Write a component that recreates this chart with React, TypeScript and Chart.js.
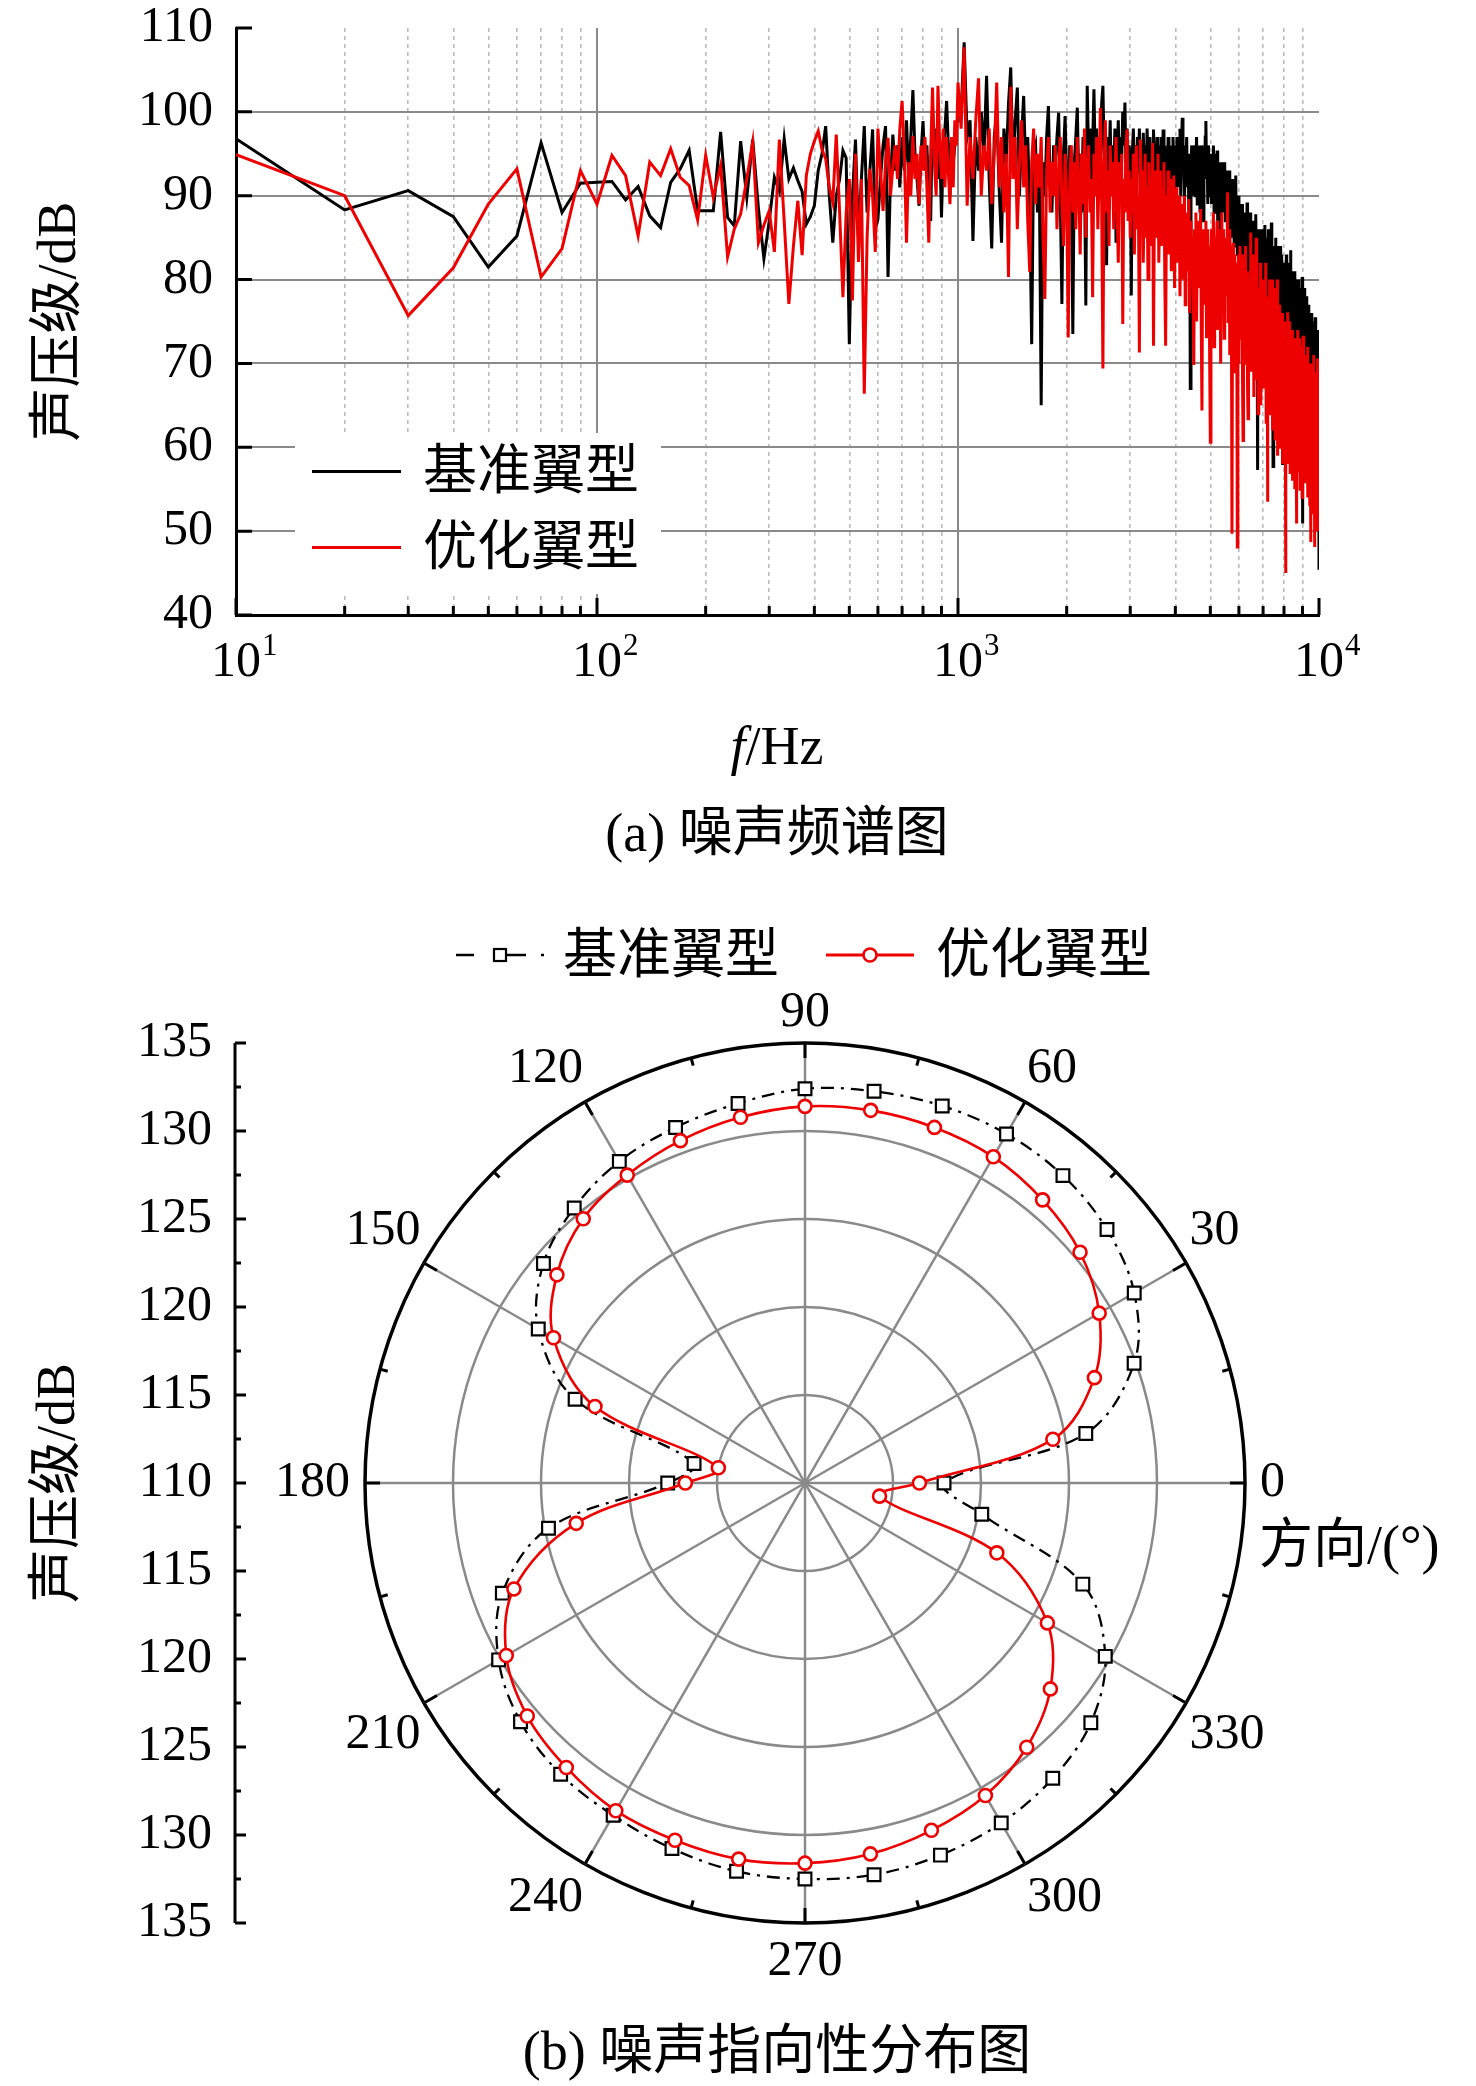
import React, { useEffect, useRef } from 'react';
import { Chart, registerables } from 'chart.js';

Chart.register(...registerables);

const SERIF = '"Liberation Serif", "Times New Roman", serif';
const MIXED = '"Liberation Serif", "Noto Sans CJK SC", serif';
const RED = '#ee0000';
const GRID_MAJOR = '#8a8a8a';
const GRID_MINOR = '#bcbcbc';

// ---------- (a) spectrum data ----------
const SERIES_NAMES = ['基准翼型', '优化翼型'];
const LOW_START = 10;
const LOW_STEP = 10;
const HIGH_START = 1020;
const HIGH_STEP = 20;

// 10 Hz .. 1000 Hz, 10 Hz step
const BASE_LOW = [
  96.8, 88.3, 90.6, 87.5, 81.5, 85.2, 96.3, 88.0, 91.5, 91.6,
  91.7, 89.5, 91.1, 87.6, 86.2, 91.6, 93.2, 95.4, 88.2, 88.2,
  88.2, 97.6, 87.4, 86.4, 96.5, 89.8, 96.7, 88.5, 82.5, 87.0,
  92.2, 90.5, 96.8, 92.0, 93.3, 91.8, 90.5, 86.6, 87.5, 88.8,
  93, 95, 98.3, 90, 84.4, 90, 92, 95.4, 94.5, 72.3,
  90, 96.7, 85, 92, 98.3, 88, 93, 97.9, 86, 87.2,
  92, 96, 98.3, 80.3, 92, 97.3, 93, 96, 91, 97,
  93, 99, 92, 97, 102.6, 95, 92, 88.8, 95, 98.9,
  93, 96, 90, 87, 100.5, 95, 98, 92, 96, 87.4,
  95, 98, 101.3, 96, 90, 97, 94, 96, 98.7, 99,
];
const OPT_LOW = [
  94.9, 90.0, 75.7, 81.4, 89.0, 93.2, 80.3, 83.7, 93.0, 89.0,
  94.8, 92.4, 85.2, 94.0, 92.4, 95.6, 92.2, 91.2, 87.1, 94.8,
  89.8, 93.6, 82.7, 86.0, 87.8, 92.0, 96.4, 84.4, 86.5, 88.2,
  83.3, 96.7, 87, 77.1, 84, 89.4, 82.9, 92.4, 95, 96.5,
  97.7, 95.5, 94.4, 91, 89.2, 97.3, 88, 77.9, 88, 92,
  77.5, 95.0, 82.1, 92.0, 66.4, 85, 93.2, 90, 83.3, 98.0,
  93, 88.2, 94, 96.9, 90, 93.4, 96, 92, 98, 101.3,
  95, 84.4, 94, 90, 97.1, 92, 95, 89, 96, 93,
  97, 91, 84.4, 95, 102.9, 94, 90, 103.1, 96, 92,
  98, 91, 97, 93, 89, 97, 91, 99, 96, 103.5,
];
// 1020 Hz .. 10000 Hz, 20 Hz step (25 values = 500 Hz per row)
const BASE_HIGH = [
  100, 108.3, 97, 99, 84.6, 97, 93, 100, 95, 104.3, 92, 83.7, 97, 100, 91, 84.4, 98, 94, 101, 105.3, 93, 99, 102.9, 90, 97,
  101.9, 93, 97, 89, 72.3, 95, 96, 88, 92, 65, 94, 90, 97, 100.7, 91, 88, 96, 93, 97, 99.9, 90, 77.1, 95, 99.5, 92,
  88, 96, 91, 73.5, 94, 97, 100.5, 92, 95, 88, 97, 93, 76.9, 103.1, 95, 98, 90, 96, 102.7, 94, 98, 89, 97, 93, 101,
  103.1, 95, 98, 81.7, 97, 93, 99, 90, 96, 92, 98, 84.4, 95, 99, 91, 97, 94, 100, 96, 101.1, 93, 98, 90, 96, 94,
  78.1, 95, 98, 92, 96, 89, 97, 93, 98, 91, 96, 88, 97.5, 93, 96, 90, 98, 94, 91, 97, 93, 96, 89, 97.9, 94,
  96, 91, 97, 93, 88, 96, 92, 97, 90, 97.9, 94, 96, 89, 95, 92, 97, 93, 95, 88, 96, 92, 97, 94, 90, 96,
  93, 97, 91, 96, 94, 98, 90, 96, 99.3, 93, 96, 89, 95, 92, 97, 91, 95, 88, 94, 67, 93, 96, 90, 95, 92,
  96, 90, 94, 97, 89, 95, 92, 96, 88, 94, 91, 96, 93, 87, 95, 92, 97, 98.9, 93, 95, 89, 96, 92, 94, 90,
  95, 89, 94, 91, 96, 88, 93, 90, 95, 92, 95.4, 87, 93, 90, 94, 86, 92, 89, 94, 91, 88, 93, 90, 94, 87,
  92, 88, 93, 86, 91, 89, 93, 84, 90, 87, 92, 85, 90, 88, 92, 84, 89, 87, 92.4, 85, 89, 83, 88, 86, 90,
  84, 89, 82, 87, 85, 89, 80, 86, 83, 88, 79, 85, 82, 87, 84, 89.2, 78, 85, 81, 86, 83, 88, 77, 84, 82,
  87, 80, 85, 76, 84, 81, 87, 78, 87.8, 82, 85, 75, 57.3, 83, 86, 79, 84, 76, 85, 81, 86, 74, 83, 80, 86,
  78, 84, 81, 86.5, 75, 83, 79, 85, 72, 82, 80, 86, 76, 83, 79, 85, 73, 81, 86.8, 77, 83, 70, 57.7, 80, 84,
  76, 83, 79, 85, 72, 81, 78, 84, 70, 80, 83, 75, 82, 77, 84, 71, 80, 76, 83, 74, 57.9, 79, 82, 72, 80,
  77, 82, 69, 79, 75, 83, 70, 78, 81, 73, 80, 67, 77, 82, 74, 79, 83.5, 71, 78, 75, 81, 68, 77, 73, 80,
  72, 79, 75, 81, 66, 77, 73, 80, 70, 76, 79, 64, 75, 80, 71, 77, 74, 79, 62, 75, 72, 78, 68, 80.3, 50.9,
  74, 78, 69, 76, 72, 79, 63, 74, 77, 67, 73, 78, 70, 75, 61, 72, 77, 68, 74, 71, 76, 60, 72, 75, 66,
  73, 76, 64, 71, 74, 58, 70, 75, 66, 72, 62, 70, 75.5, 63, 69, 72, 56, 68, 74, 60, 66, 72, 59, 74, 45.4,
];
const OPT_HIGH = [
  98, 107.7, 88.8, 97, 92, 99, 104, 90, 96, 93, 98, 89, 95, 103.5, 91, 97, 88, 95, 80.3, 103, 92, 97, 86, 94, 99,
  91, 96, 87, 80.9, 94, 98, 89, 95, 91, 97, 85, 77.7, 93, 97, 88, 94, 90, 96, 86, 93, 97, 89, 84, 95, 90,
  73.1, 92, 96, 88, 94, 86, 97, 91, 83, 95, 89, 98, 85, 93, 96, 88, 92, 77.9, 95, 90, 97, 86, 93, 100.5, 89,
  69.4, 94, 99, 88, 93, 84, 96, 90, 94, 86, 92, 97, 88, 82, 94, 90, 95, 74.7, 92, 88, 96, 97.9, 87, 93, 85,
  92, 88, 95, 83, 91, 96, 86, 90, 71.3, 96.7, 88, 93, 82, 90, 95, 85, 91, 80, 94, 87, 92, 84, 96.3, 72.1, 89,
  93, 85, 90, 95, 82, 89, 93, 84, 91, 87, 94, 80, 72.1, 90, 86, 93, 83, 89, 92, 81, 88, 85, 92.4, 79, 87,
  91, 82, 88, 85, 90, 78, 87, 83, 89, 80, 86, 90, 77, 85, 88, 81, 86, 89.6, 76, 84, 87, 80, 85, 78, 69.8,
  86, 82, 88, 75, 84, 87, 79, 85, 81, 88.4, 74, 64.4, 83, 86, 77, 84, 80, 87, 73, 83, 86, 78, 84, 70, 60.6,
  82, 86, 76, 83, 88, 72, 81, 85, 78, 84, 87, 74, 82, 86, 79, 84, 70, 81, 88, 77, 83, 86, 73, 80, 84,
  78, 85, 81, 90.4, 75, 83, 86, 71, 80, 84, 76, 49.7, 79, 84.4, 72, 80, 83, 69, 78, 82, 74, 48.1, 77, 83, 70,
  79, 84, 73, 81, 77, 83, 68, 60.8, 76, 82, 71, 79, 84, 70, 77, 81, 67, 63.4, 75, 80, 72, 78, 85.6, 69, 76,
  81, 70, 77, 83, 66, 75, 80, 71, 77, 85, 68, 74, 79, 64, 73, 78, 70, 76, 82, 65, 73, 78, 69, 75, 80,
  67, 74, 79, 70, 76, 82, 63, 72, 77, 53.5, 71, 78, 68, 74, 80, 64, 72, 77, 69, 75, 80, 62, 71, 76, 67,
  73, 79, 61, 70, 76, 66, 72, 80, 59, 69, 75, 65, 71, 77, 60, 68, 74, 64, 70, 76, 58, 67, 73, 63, 69,
  75, 62, 68, 45, 66, 73, 60, 68, 76.1, 58, 66, 72, 62, 68, 75, 57, 65, 71, 61, 67, 74, 56, 64, 70, 60,
  66, 73, 55, 64, 70, 60, 66, 50.9, 63, 69, 74, 57, 65, 71, 59, 66, 73, 55, 63, 69, 58, 65, 72, 54, 62,
  68, 73.3, 57, 64, 70, 59, 55.7, 66, 71, 56, 63, 69, 58, 65, 72, 54, 62, 68, 57, 64, 70, 53, 61, 48.7, 66,
  70, 55, 62, 68, 52, 60, 66, 71, 54, 61, 48.1, 63, 69, 53, 60, 66, 51, 58, 65, 70.6, 50, 57, 64, 68, 52,
];

const FREQS = [
  ...BASE_LOW.map((_, i) => LOW_START + i * LOW_STEP),
  ...BASE_HIGH.map((_, i) => HIGH_START + i * HIGH_STEP),
];
const BASE_SPEC = [...BASE_LOW, ...BASE_HIGH];
const OPT_SPEC = [...OPT_LOW, ...OPT_HIGH];

const Y_TICKS = [40, 50, 60, 70, 80, 90, 100, 110];
const X_DECADES = [10, 100, 1000, 10000];
const X_EXPONENTS = ['1', '2', '3', '4'];
const X_GRID = [
  10, 20, 30, 40, 50, 60, 70, 80, 90,
  100, 200, 300, 400, 500, 600, 700, 800, 900,
  1000, 2000, 3000, 4000, 5000, 6000, 7000, 8000, 9000,
  10000,
];

// ---------- (b) directivity data ----------
const ANGLES = [
  0, 10, 20, 30, 40, 50, 60, 70, 80, 90, 100, 110,
  120, 130, 140, 150, 160, 170, 180, 190, 200, 210, 220, 230,
  240, 250, 260, 270, 280, 290, 300, 310, 320, 330, 340, 350,
];
const BASE_DIR = [
  117.9, 126.2, 129.9, 131.6, 132.4, 132.8, 132.9, 132.8, 132.6, 132.4, 131.9, 131.5,
  131.1, 130.4, 129.4, 127.5, 123.9, 116.4, 117.8, 124.8, 128.3, 130.1, 131.1, 131.6,
  131.8, 132.1, 132.4, 132.5, 132.6, 132.5, 132.3, 131.9, 131.2, 129.7, 126.8, 120.2,
];
const OPT_DIR = [
  116.5, 124.3, 127.5, 129.3, 130.4, 131.0, 131.4, 131.5, 131.5, 131.4, 131.1, 130.7,
  130.2, 129.6, 128.4, 126.5, 122.7, 115.0, 116.8, 123.2, 127.6, 129.6, 130.6, 131.1,
  131.5, 131.6, 131.7, 131.6, 131.4, 131.0, 130.5, 129.6, 128.2, 125.9, 121.6, 114.3,
];
const R_MIN = 110;
const R_MAX = 135;
const R_STEP = 5;
const SIDE_TICKS = [110, 112.5, 115, 117.5, 120, 122.5, 125, 127.5, 130, 132.5, 135];
const RING_TICKS = [0, 15, 30, 45, 60, 75, 90, 105, 120, 135, 150, 165, 180, 195, 210, 225, 240, 255, 270, 285, 300, 315, 330, 345];
// counter-clockwise order starting at 0 deg (chart.js goes clockwise)
const POLAR_ORDER = [0, ...ANGLES.slice(1).reverse()];

const specPlugin = {
  id: 'specDecor',
  afterDraw(chart: any) {
    const { ctx, chartArea, scales } = chart;
    const x = scales.x;
    const y = scales.y;
    ctx.save();
    ctx.strokeStyle = '#000';
    ctx.lineWidth = 3;
    ctx.beginPath();
    Y_TICKS.forEach((v) => {
      const py = y.getPixelForValue(v);
      ctx.moveTo(chartArea.left, py);
      ctx.lineTo(chartArea.left + 16, py);
    });
    X_GRID.forEach((v) => {
      const px = x.getPixelForValue(v);
      const len = X_DECADES.includes(v) ? 17 : 9;
      ctx.moveTo(px, chartArea.bottom);
      ctx.lineTo(px, chartArea.bottom - len);
    });
    ctx.stroke();
    ctx.fillStyle = '#000';
    ctx.textBaseline = 'alphabetic';
    X_DECADES.forEach((v, i) => {
      const px = x.getPixelForValue(v);
      ctx.font = `50px ${SERIF}`;
      ctx.textAlign = 'center';
      const base = chartArea.bottom + 61;
      ctx.fillText('10', px, base);
      const w = ctx.measureText('10').width;
      ctx.font = `31px ${SERIF}`;
      ctx.textAlign = 'left';
      ctx.fillText(X_EXPONENTS[i], px + w / 2 + 1, base - 21);
    });
    ctx.restore();
  },
};

const polarPlugin = {
  id: 'polarDecor',
  afterDraw(chart: any) {
    const { ctx } = chart;
    const r = chart.scales.r;
    const cx = r.xCenter;
    const cy = r.yCenter;
    const R = r.drawingArea;
    ctx.save();
    ctx.strokeStyle = '#000';
    ctx.lineWidth = 3;
    ctx.beginPath();
    RING_TICKS.forEach((a) => {
      const t = (a * Math.PI) / 180;
      const len = a % 30 === 0 ? 15 : 8;
      ctx.moveTo(cx + R * Math.cos(t), cy - R * Math.sin(t));
      ctx.lineTo(cx + (R - len) * Math.cos(t), cy - (R - len) * Math.sin(t));
    });
    ctx.stroke();

    // side linear axis mirroring the radial scale
    const ax = 235;
    ctx.beginPath();
    ctx.moveTo(ax, cy - R);
    ctx.lineTo(ax, cy + R);
    SIDE_TICKS.forEach((v) => {
      const d = r.getDistanceFromCenterForValue(v);
      const len = v % R_STEP === 0 ? 11 : 6;
      [-1, 1].forEach((s) => {
        ctx.moveTo(ax, cy + s * d);
        ctx.lineTo(ax + len, cy + s * d);
      });
    });
    ctx.stroke();
    ctx.fillStyle = '#000';
    ctx.font = `50px ${SERIF}`;
    ctx.textAlign = 'right';
    ctx.textBaseline = 'middle';
    SIDE_TICKS.filter((v) => v % R_STEP === 0).forEach((v) => {
      const d = r.getDistanceFromCenterForValue(v);
      ctx.fillText(String(v), 212, cy - d);
      if (d > 0) ctx.fillText(String(v), 212, cy + d);
    });
    ctx.translate(60, cy);
    ctx.rotate(-Math.PI / 2);
    ctx.textAlign = 'center';
    ctx.font = `54px ${MIXED}`;
    ctx.fillText('声压级/dB', 0, 0);
    ctx.restore();
  },
};

const abs = (left: number, top: number, extra: any = {}) => ({
  position: 'absolute' as const,
  left,
  top,
  ...extra,
});

export default function App() {
  const specRef = useRef<HTMLCanvasElement>(null);
  const polarRef = useRef<HTMLCanvasElement>(null);

  useEffect(() => {
    const spec = new Chart(specRef.current as HTMLCanvasElement, {
      type: 'line',
      data: {
        datasets: [
          {
            label: SERIES_NAMES[0],
            data: BASE_SPEC.map((v, i) => ({ x: FREQS[i], y: v })),
            borderColor: '#000',
            borderWidth: 3,
            pointRadius: 0,
            tension: 0,
            order: 1,
          },
          {
            label: SERIES_NAMES[1],
            data: OPT_SPEC.map((v, i) => ({ x: FREQS[i], y: v })),
            borderColor: RED,
            borderWidth: 3,
            pointRadius: 0,
            tension: 0,
            order: 0,
          },
        ],
      },
      options: {
        animation: false,
        responsive: false,
        events: [],
        layout: { padding: { left: 0, top: 28, right: 157, bottom: 0 } },
        plugins: { legend: { display: false }, tooltip: { enabled: false } },
        scales: {
          x: {
            type: 'logarithmic',
            min: 10,
            max: 10000,
            afterBuildTicks: (s: any) => {
              s.ticks = X_GRID.map((v) => ({ value: v }));
            },
            afterFit: (s: any) => {
              s.height = 85;
            },
            ticks: { display: false },
            grid: {
              drawTicks: false,
              color: (c: any) => {
                const v = c.tick ? c.tick.value : 0;
                if (v === 10 || v === 10000) return 'rgba(0,0,0,0)';
                return X_DECADES.includes(v) ? GRID_MAJOR : GRID_MINOR;
              },
              lineWidth: (c: any) => (c.tick && X_DECADES.includes(c.tick.value) ? 2 : 1.6),
            },
            border: {
              color: '#000',
              width: 3,
              dash: (c: any) => (c.tick && !X_DECADES.includes(c.tick.value) ? [4, 4] : []),
            },
          } as any,
          y: {
            min: 40,
            max: 110,
            afterFit: (s: any) => {
              s.width = 236;
            },
            ticks: {
              stepSize: 10,
              padding: 23,
              color: '#000',
              font: { family: SERIF, size: 50, lineHeight: 0.1 },
            },
            grid: {
              drawTicks: false,
              color: (c: any) =>
                c.tick && c.tick.value > 40 && c.tick.value < 110 ? GRID_MAJOR : 'rgba(0,0,0,0)',
              lineWidth: 2,
            },
            border: { color: '#000', width: 3 },
            title: {
              display: true,
              text: '声压级/dB',
              color: '#000',
              font: { family: MIXED, size: 54 },
              padding: { top: 28, bottom: 0 },
            },
          },
        },
      } as any,
      plugins: [specPlugin],
    });

    const polar = new Chart(polarRef.current as HTMLCanvasElement, {
      type: 'radar',
      data: {
        labels: POLAR_ORDER.map(String),
        datasets: [
          {
            label: SERIES_NAMES[0],
            data: POLAR_ORDER.map((a) => BASE_DIR[ANGLES.indexOf(a)]),
            borderColor: '#000',
            borderWidth: 2.3,
            borderDash: [13, 7, 3, 7],
            fill: false,
            backgroundColor: 'rgba(0,0,0,0)',
            pointStyle: 'rect',
            pointRadius: 9,
            pointBorderWidth: 2.2,
            pointBackgroundColor: '#fff',
            pointBorderColor: '#000',
            tension: 0.35,
            order: 1,
          },
          {
            label: SERIES_NAMES[1],
            data: POLAR_ORDER.map((a) => OPT_DIR[ANGLES.indexOf(a)]),
            borderColor: RED,
            borderWidth: 2.6,
            fill: false,
            backgroundColor: 'rgba(0,0,0,0)',
            pointStyle: 'circle',
            pointRadius: 6.5,
            pointBorderWidth: 2.6,
            pointBackgroundColor: '#fff',
            pointBorderColor: RED,
            tension: 0.35,
            order: 0,
          },
        ],
      },
      options: {
        animation: false,
        responsive: false,
        events: [],
        plugins: { legend: { display: false }, tooltip: { enabled: false } },
        scales: {
          r: {
            min: R_MIN,
            max: R_MAX,
            startAngle: 90,
            ticks: { display: false, stepSize: R_STEP },
            grid: {
              circular: true,
              color: (c: any) => (c.tick && c.tick.value === R_MAX ? '#000' : GRID_MAJOR),
              lineWidth: (c: any) => (c.tick && c.tick.value === R_MAX ? 3.5 : 2.5),
            },
            angleLines: {
              color: GRID_MAJOR,
              lineWidth: (c: any) => (POLAR_ORDER[c.index] % 30 === 0 ? 2.5 : 0),
            },
            pointLabels: {
              display: true,
              color: '#000',
              font: { family: SERIF, size: 50 },
              callback: (label: string) => (Number(label) % 30 === 0 ? label : ''),
              padding: (c: any) => {
                const a = POLAR_ORDER[c.index];
                if (a % 30 !== 0) return 0;
                if (a === 90) return 0;
                if (a === 270) return 9;
                if (a === 0 || a === 180) return 15;
                return 4;
              },
            },
          },
        },
      } as any,
      plugins: [polarPlugin],
    });

    return () => {
      spec.destroy();
      polar.destroy();
    };
  }, []);

  const text54 = { fontFamily: MIXED, fontSize: 54, lineHeight: '54px', color: '#000', whiteSpace: 'nowrap' as const };

  return (
    <div
      style={{
        position: 'absolute',
        left: 0,
        top: 0,
        width: 1476,
        height: 2086,
        overflow: 'hidden',
        background: '#fff',
        fontFamily: MIXED,
      }}
    >
      <canvas ref={specRef} width={1476} height={700} style={abs(0, 0)} />

      <div style={abs(295, 433, { width: 366, height: 161, background: '#fff' })}>
        <div style={abs(17, 37, { width: 89, height: 3, background: '#000' })} />
        <div style={abs(128, 11, text54)}>{SERIES_NAMES[0]}</div>
        <div style={abs(17, 113, { width: 89, height: 3, background: RED })} />
        <div style={abs(128, 87, text54)}>{SERIES_NAMES[1]}</div>
      </div>

      <div style={abs(777, 746, { ...text54, transform: 'translate(-50%, -50%)' })}>
        <span style={{ fontStyle: 'italic' }}>f</span>/Hz
      </div>
      <div style={abs(777, 833, { ...text54, transform: 'translate(-50%, -50%)' })}>(a) 噪声频谱图</div>

      <svg style={abs(454, 945)} width={94} height={20}>
        <line x1={2} x2={20} y1={10} y2={10} stroke="#000" strokeWidth={2.5} />
        <line x1={52} x2={72} y1={10} y2={10} stroke="#000" strokeWidth={2.5} />
        <line x1={87} x2={90} y1={10} y2={10} stroke="#000" strokeWidth={2.5} />
        <rect x={40} y={4} width={12} height={12} fill="#fff" stroke="#000" strokeWidth={2.2} />
      </svg>
      <div style={abs(563, 928, text54)}>{SERIES_NAMES[0]}</div>
      <svg style={abs(824, 945)} width={92} height={20}>
        <line x1={2} x2={90} y1={10} y2={10} stroke={RED} strokeWidth={3} />
        <circle cx={46} cy={10} r={6.5} fill="#fff" stroke={RED} strokeWidth={2.6} />
      </svg>
      <div style={abs(936, 928, text54)}>{SERIES_NAMES[1]}</div>

      <canvas ref={polarRef} width={1611} height={1017} style={abs(0, 979)} />

      <div style={abs(1259, 1518, text54)}>方向/(°)</div>
      <div style={abs(777, 2051, { ...text54, transform: 'translate(-50%, -50%)' })}>(b) 噪声指向性分布图</div>
    </div>
  );
}
